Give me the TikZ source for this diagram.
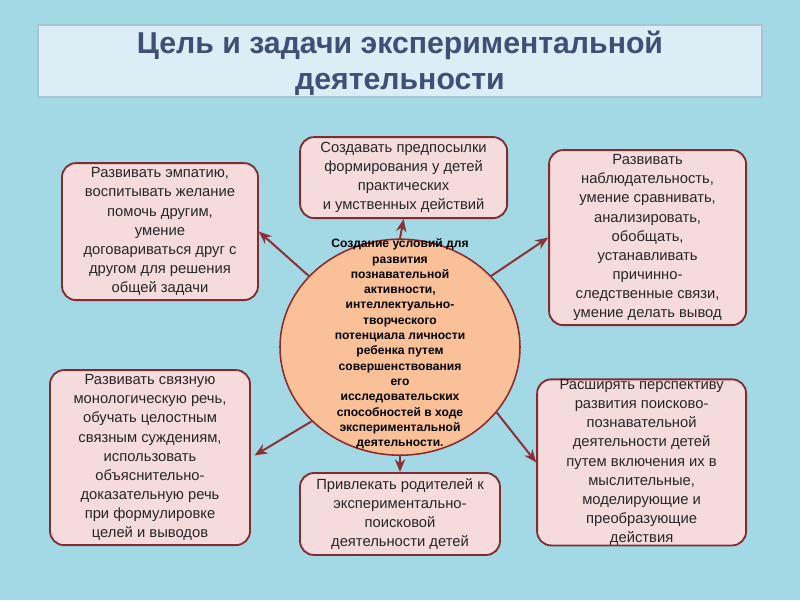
\documentclass[tikz,border=0pt]{standalone}
\usepackage{fontspec}
\setmainfont{Liberation Sans}
\usetikzlibrary{shapes.geometric,arrows.meta}
\definecolor{aqx}{RGB}{163,217,228}
\definecolor{tbx}{RGB}{219,237,245}
\definecolor{tbd}{RGB}{168,198,212}
\definecolor{ttx}{RGB}{62,80,118}
\definecolor{pkx}{RGB}{246,219,221}
\definecolor{rdx}{RGB}{128,44,50}
\definecolor{orx}{RGB}{250,193,152}
\definecolor{arx}{RGB}{138,48,54}
\tikzset{
    goal/.style={draw=rdx,fill=pkx,line width=1.3pt,rounded corners=3.5mm,
        align=center,inner sep=0pt,text=black!85,
        font=\fontsize{10.5}{13.6}\selectfont},
    core/.style={ellipse,draw=rdx!90!red,fill=orx,line width=1.1pt,inner sep=0pt},
    link/.style={arx,line width=1.4pt,-{Stealth[length=3.2mm,width=2.6mm]}}
}

\begin{document}
\begin{tikzpicture}
    \useasboundingbox [fill=aqx] (0,0) rectangle (20,15);
    % title
    \node (title) [draw=tbd,fill=tbx,line width=2pt,minimum width=18.1cm,
        minimum height=1.8cm,inner sep=0pt] at (10,13.475) {};
    \node (titletext) [text=ttx,align=center,
        font=\fontsize{21.5}{25}\bfseries\selectfont] at (10,13.42) {%
        Цель и задачи экспериментальной\\деятельности};
    % centre
    \node (c) [core,minimum width=6cm,minimum height=5.4cm] at (10,6.32) {};
    \node (ctext) [align=center,text=black,
        font=\fontsize{8.6}{10.9}\bfseries\selectfont] at (10,6.4) {%
        Создание условий для\\развития\\познавательной\\активности,\\
        интеллектуально-\\творческого\\потенциала личности\\ребенка путем\\
        совершенствования\\его\\исследовательских\\способностей в ходе\\
        экспериментальной\\деятельности.};
    % goals
    \node (tl) [goal,minimum width=4.9cm,minimum height=3.425cm] at (4,9.21) {%
        Развивать эмпатию,\\воспитывать желание\\помочь другим,\\умение\\
        договариваться друг с\\другом для решения\\общей задачи};
    \node (tc) [goal,minimum width=5.175cm,minimum height=2.025cm] at (10.09,10.56) {%
        Создавать предпосылки\\формирования у детей\\практических\\
        и умственных действий};
    \node (tr) [goal,minimum width=4.925cm,minimum height=4.375cm] at (16.19,9.06) {%
        Развивать\\наблюдательность,\\умение сравнивать,\\анализировать,\\
        обобщать,\\устанавливать\\причинно-\\следственные связи,\\
        умение делать вывод};
    \node (bl) [goal,minimum width=5cm,minimum height=4.375cm] at (3.75,3.56) {%
        Развивать связную\\монологическую речь,\\обучать целостным\\
        связным суждениям,\\использовать\\объяснительно-\\
        доказательную речь\\при формулировке\\целей и выводов};
    \node (bc) [goal,minimum width=5cm,minimum height=2.05cm] at (10,2.15) {%
        Привлекать родителей к\\экспериментально-\\поисковой\\
        деятельности детей};
    \node (br) [goal,minimum width=5.225cm,minimum height=4.125cm] at (16.04,3.44) {%
        Расширять перспективу\\развития поисково-\\познавательной\\
        деятельности детей\\путем включения их в\\мыслительные,\\
        моделирующие и\\преобразующие\\действия};
    % arrows
    \draw [link] (c.142) -- (tl.east);
    \draw [link] (c.north) -- (tc.south);
    \draw [link] (c.38) -- (tr.west);
    \draw [link,shorten >=3pt] (c.220) -- (bl.east);
    \draw [link] (c.south) -- (bc.north);
    \draw [link] (c.326) -- (br.west);
\end{tikzpicture}
\end{document}
